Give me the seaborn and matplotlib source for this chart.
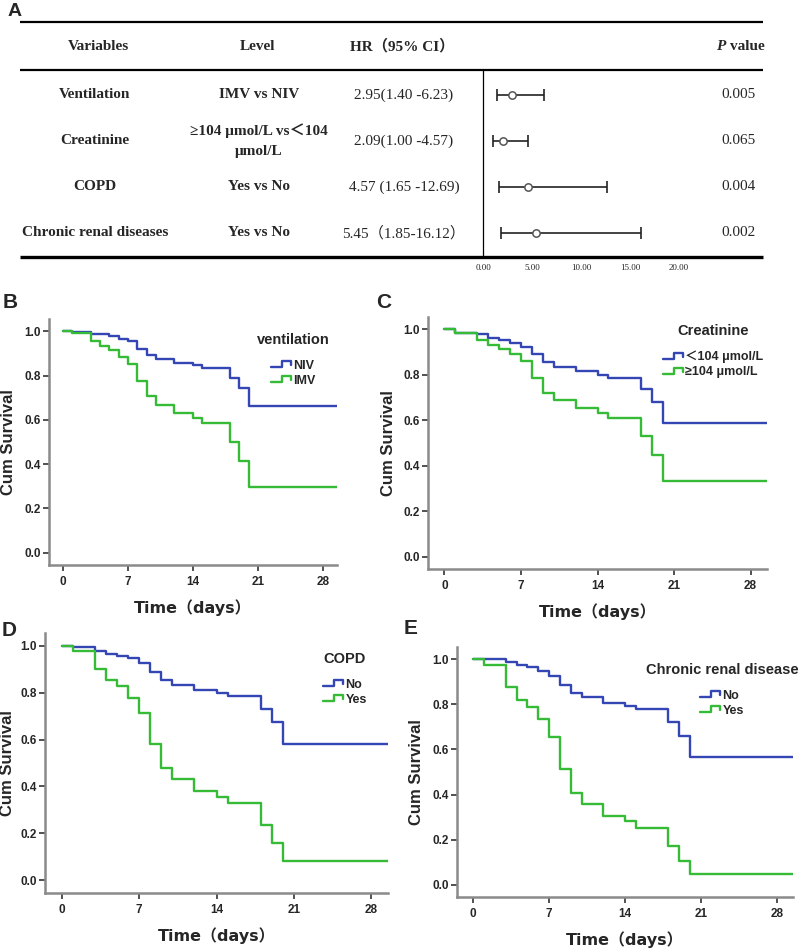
import numpy as np
import matplotlib
matplotlib.use("Agg")
import matplotlib.pyplot as plt
import seaborn as sns
from matplotlib.lines import Line2D
from matplotlib.legend_handler import HandlerLine2D

# ---- panel A: Cox regression table ----
variables = ["Ventilation", "Creatinine", "COPD", "Chronic renal diseases"]
levels = ["IMV vs NIV", "≥104 μmol/L vs＜104\nμmol/L", "Yes vs No", "Yes vs No"]
hr_text = ["2.95(1.40 -6.23)", "2.09(1.00 -4.57)", "4.57 (1.65 -12.69)", "5.45（1.85-16.12）"]
hr = [2.95, 2.09, 4.57, 5.45]
ci_low = [1.40, 1.00, 1.65, 1.85]
ci_high = [6.23, 4.57, 12.69, 16.12]
p_values = ["0.005", "0.065", "0.004", "0.002"]
hr_ticks = [0, 5, 10, 15, 20]

# ---- KM curves (time in days, cumulative survival) ----
b_t_niv = [0, 1, 3, 5, 6, 7, 8, 9, 10, 12, 14, 15, 18, 19, 20, 29.5]
b_s_niv = [1.0, 0.997, 0.989, 0.979, 0.967, 0.955, 0.918, 0.891, 0.876, 0.858, 0.847, 0.835, 0.79, 0.744, 0.664, 0.664]
b_t_imv = [0, 1, 3, 4, 5, 6, 7, 8, 9, 10, 12, 14, 15, 18, 19, 20, 29.5]
b_s_imv = [1.0, 0.994, 0.956, 0.933, 0.914, 0.885, 0.85, 0.774, 0.706, 0.668, 0.63, 0.61, 0.585, 0.499, 0.415, 0.297, 0.297]

c_t_low = [0, 1, 3, 4, 5, 6, 7, 8, 9, 10, 12, 14, 15, 18, 19, 20, 29.5]
c_s_low = [1.0, 0.986, 0.979, 0.964, 0.953, 0.942, 0.925, 0.891, 0.855, 0.836, 0.815, 0.80, 0.786, 0.737, 0.68, 0.588, 0.588]
c_t_high = [0, 1, 3, 4, 5, 6, 7, 8, 9, 10, 12, 14, 15, 18, 19, 20, 29.5]
c_s_high = [1.0, 0.986, 0.953, 0.931, 0.913, 0.891, 0.859, 0.786, 0.719, 0.69, 0.653, 0.633, 0.611, 0.532, 0.449, 0.331, 0.331]

d_t_no = [0, 1, 3, 4, 5, 6, 7, 8, 9, 10, 12, 14, 15, 18, 19, 20, 29.5]
d_s_no = [1.0, 0.997, 0.978, 0.967, 0.957, 0.947, 0.928, 0.89, 0.854, 0.835, 0.811, 0.80, 0.785, 0.732, 0.676, 0.579, 0.579]
d_t_yes = [0, 1, 3, 4, 5, 6, 7, 8, 9, 10, 12, 14, 15, 18, 19, 20, 29.5]
d_s_yes = [1.0, 0.978, 0.903, 0.854, 0.828, 0.779, 0.712, 0.583, 0.48, 0.432, 0.382, 0.356, 0.33, 0.237, 0.16, 0.08, 0.08]

e_t_no = [0, 3, 4, 5, 6, 7, 8, 9, 10, 12, 14, 15, 18, 19, 20, 29.5]
e_s_no = [1.0, 0.989, 0.974, 0.964, 0.949, 0.927, 0.886, 0.849, 0.832, 0.808, 0.793, 0.779, 0.72, 0.662, 0.565, 0.565]
e_t_yes = [0, 1, 3, 4, 5, 6, 7, 8, 9, 10, 12, 14, 15, 18, 19, 20, 29.5]
e_s_yes = [1.0, 0.974, 0.879, 0.82, 0.79, 0.735, 0.655, 0.514, 0.405, 0.356, 0.305, 0.283, 0.253, 0.17, 0.106, 0.047, 0.047]

day_ticks = [0, 7, 14, 21, 28]
surv_ticks = [0.0, 0.2, 0.4, 0.6, 0.8, 1.0]

BLUE = "#3346b4"
GREEN = "#36bb36"

sns.set_style("ticks")
plt.rcParams["font.family"] = ["Liberation Sans", "Noto Sans CJK SC", "DejaVu Sans"]
SERIF = ["Liberation Serif", "Noto Sans CJK SC", "DejaVu Serif"]
TIMEFONT = ["DejaVu Sans", "Noto Sans CJK SC"]
TFS = 11  # table font size

W, H = 800, 951
fig = plt.figure(figsize=(8, 9.51), dpi=100)


def rect(left, right, top, bottom):
    return [left / W, 1 - bottom / H, (right - left) / W, (bottom - top) / H]


# ---------------- Panel A ----------------
ax_t = fig.add_axes([0, 0, 1, 1])
ax_t.set_xlim(0, W)
ax_t.set_ylim(H, 0)
ax_t.axis("off")
ax_t.text(8, 12, "A", fontsize=14, fontweight="bold", va="center", ha="left")
ax_t.hlines(22, 20, 763, color="black", lw=1.6)
ax_t.hlines(70, 20, 763, color="black", lw=1.6)
ax_t.hlines(257, 20, 763, color="black", lw=2.4)

hdr_y = 46
ax_t.text(98, hdr_y, "Variables", family=SERIF, fontweight="bold", fontsize=TFS, ha="center", va="center")
ax_t.text(258, hdr_y, "Level", family=SERIF, fontweight="bold", fontsize=TFS, ha="center", va="center")
ax_t.text(402, hdr_y, "HR（95% CI）", family=SERIF, fontweight="bold", fontsize=TFS, ha="center", va="center")
ax_t.text(725, hdr_y, "P", family=SERIF, fontweight="bold", style="italic", fontsize=TFS, ha="right", va="center")
ax_t.text(730, hdr_y, "value", family=SERIF, fontweight="bold", fontsize=TFS, ha="left", va="center")

row_y = [95, 141, 187, 233]
for i in range(len(variables)):
    ax_t.text(95, row_y[i], variables[i], family=SERIF, fontweight="bold", fontsize=TFS, ha="center", va="center")
    ax_t.text(259, row_y[i], levels[i], family=SERIF, fontweight="bold", fontsize=TFS, ha="center", va="center",
              linespacing=1.7)
    ax_t.text(404, row_y[i], hr_text[i], family=SERIF, fontsize=TFS, ha="center", va="center")
    ax_t.text(738, row_y[i], p_values[i], family=SERIF, fontsize=TFS, ha="center", va="center")

ax_f = fig.add_axes(rect(483, 763, 70, 257))
ax_f.patch.set_visible(False)
rows = np.arange(len(hr))
ax_f.errorbar(hr, rows, xerr=[np.array(hr) - np.array(ci_low), np.array(ci_high) - np.array(hr)],
              fmt="none", ecolor="#222222", elinewidth=1.2, capsize=4, capthick=1.2)
sns.scatterplot(x=hr, y=rows, ax=ax_f, s=28, facecolor="white", edgecolor="#555555", linewidth=1.1, zorder=3)
ax_f.set_xlim(0, 28.6)
ax_f.set_ylim(3.52, -0.543)
ax_f.set_yticks([])
ax_f.set_xticks(hr_ticks)
ax_f.set_xticklabels([f"{v:.2f}" for v in hr_ticks], family=SERIF, fontsize=6.5)
ax_f.tick_params(axis="x", length=0, pad=5)
for s in ["top", "right", "bottom"]:
    ax_f.spines[s].set_visible(False)
ax_f.spines["left"].set_linewidth(0.9)
ax_f.spines["left"].set_color("black")


# ---------------- KM panels ----------------
class StepHandler(HandlerLine2D):
    def create_artists(self, legend, orig_handle, xdescent, ydescent, width, height, fontsize, trans):
        xs = np.array([0, 0.55, 0.55, 1.0, 1.0]) * width - xdescent
        ys = np.array([0.2, 0.2, 0.85, 0.85, 0.4]) * height - ydescent
        ln = Line2D(xs, ys, color=orig_handle.get_color(), lw=orig_handle.get_linewidth())
        ln.set_transform(trans)
        return [ln]


def km_panel(box, curves, title, leg_xy, letter, letter_xy, ylab_right):
    ax = fig.add_axes(rect(*box))
    ax.patch.set_visible(False)
    handles = []
    for t, s, col, lab in curves:
        sns.lineplot(x=t, y=s, ax=ax, color=col, lw=1.7, drawstyle="steps-post",
                     estimator=None, errorbar=None)
        handles.append(Line2D([], [], color=col, lw=1.7, label=lab))
    ax.set_xlim(-1.5, 29.5)
    ax.set_ylim(-0.055, 1.055)
    ax.set_xticks(day_ticks)
    ax.set_yticks(surv_ticks)
    ax.set_xticklabels([str(d) for d in day_ticks], fontweight="bold", fontsize=8.5)
    ax.set_yticklabels([f"{v:.1f}" for v in surv_ticks], fontweight="bold", fontsize=8.5)
    ax.tick_params(axis="both", length=4, width=1.1, color="#222222", pad=2)
    ax.tick_params(axis="x", pad=4)
    for s in ["top", "right"]:
        ax.spines[s].set_visible(False)
    for s in ["left", "bottom"]:
        ax.spines[s].set_color("#8a8a8a")
        ax.spines[s].set_linewidth(1.8)
    ax.set_xlabel("Time（days）", family=TIMEFONT, fontweight="bold", fontsize=11.5, labelpad=8)
    ax.set_ylabel("Cum Survival", fontweight="bold", fontsize=12)
    ax.yaxis.set_label_coords((ylab_right - box[0]) / (box[1] - box[0]), 0.5)
    leg = ax.legend(handles=handles, loc="upper center",
                    bbox_to_anchor=(leg_xy[0] / W, 1 - leg_xy[1] / H), bbox_transform=fig.transFigure,
                    frameon=False, title=title, handler_map={Line2D: StepHandler()},
                    prop={"weight": "bold", "size": 9}, title_fontproperties={"weight": "bold", "size": 10.5},
                    handlelength=1.6, handletextpad=0.2, labelspacing=0.25, borderpad=0)
    leg._legend_box.sep = 9
    fig.text(letter_xy[0] / W, 1 - letter_xy[1] / H, letter, fontsize=15, fontweight="bold",
             ha="left", va="center")
    return ax


km_panel((49, 337, 319, 565),
         [(b_t_niv, b_s_niv, BLUE, "NIV"), (b_t_imv, b_s_imv, GREEN, "IMV")],
         "ventilation", (293, 327), "B", (3, 302), 16)
km_panel((428, 767, 317, 569),
         [(c_t_low, c_s_low, BLUE, "＜104 μmol/L"), (c_t_high, c_s_high, GREEN, "≥104 μmol/L")],
         "Creatinine", (713, 318), "C", (376, 302), 396)
km_panel((45, 388, 633, 893),
         [(d_t_no, d_s_no, BLUE, "No"), (d_t_yes, d_s_yes, GREEN, "Yes")],
         "COPD", (345, 646), "D", (2, 630), 15)
km_panel((457, 793, 647, 897),
         [(e_t_no, e_s_no, BLUE, "No"), (e_t_yes, e_s_yes, GREEN, "Yes")],
         "Chronic renal disease", (722, 657), "E", (404, 628), 424)

fig.savefig("out.png", dpi=100)
